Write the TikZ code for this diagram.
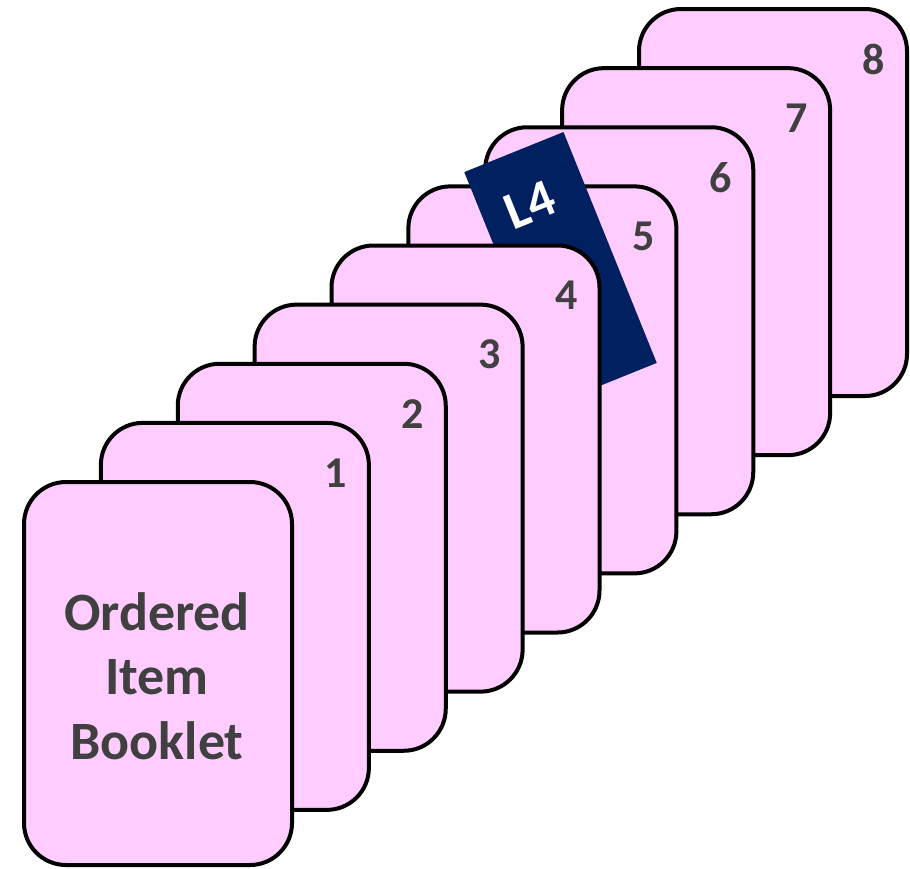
\documentclass[tikz,border=0pt]{standalone}
\usepackage{fontspec}
\setmainfont{Carlito}
\usetikzlibrary{calc}
\definecolor{cardpink}{RGB}{255,204,255}
\definecolor{numgray}{RGB}{64,64,64}
\definecolor{tagnavy}{RGB}{0,32,96}
\begin{document}
\begin{tikzpicture}[x=0.75pt,y=-0.75pt,
  card/.style={draw=black, fill=cardpink, line width=3pt, rounded corners=31.5pt,
    minimum width=201pt, minimum height=290.25pt, anchor=north west,
    outer sep=0pt, inner sep=0pt},
  num/.style={text=numgray, font=\fontsize{33}{38}\selectfont\bfseries, inner sep=0pt},
  tagbox/.style={fill=tagnavy, text=white, font=\fontsize{40}{44}\selectfont\bfseries,
    rotate=22, inner sep=0pt, outer sep=0pt},
  title/.style={text=numgray, align=center, font=\fontsize{40.5}{48.4}\selectfont\bfseries}
]
\useasboundingbox (0,0) rectangle (910,868);
\foreach \k in {8,7,6,5}{
  \node[card] (c\k) at ({24+\k*76.875},{482-\k*59.125}) {};
  \node[num] (n\k) at ($(c\k.north east)+(-33,50)$) {\k};
}
\node[tagbox] (tag) at (560.5,267.5)
  {\parbox[c][186.75pt][t]{80.25pt}{\vspace*{28.5pt}\centering\hspace*{-7pt}L4\par}};
\foreach \k in {4,3,2,1}{
  \node[card] (c\k) at ({24+\k*76.875},{482-\k*59.125}) {};
  \node[num] (n\k) at ($(c\k.north east)+(-33,50)$) {\k};
}
\node[card, minimum height=287.25pt] (c0) at (24,482) {};
\node[title] (booklet) at (157,676) {Ordered\\Item\\Booklet};
\end{tikzpicture}
\end{document}
